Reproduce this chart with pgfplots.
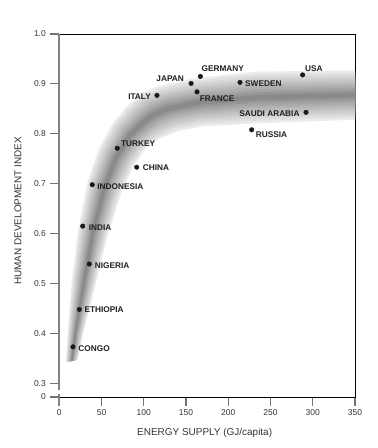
\documentclass[border=0pt]{standalone}
\usepackage{pgfplots}
\pgfplotsset{compat=1.18}
\usepackage{fontspec}
\setmainfont{Liberation Sans}
\tikzset{lab/.style={font=\fontsize{8.3}{9}\selectfont\bfseries, text=black!88, inner sep=1bp}}
\begin{document}
\begin{tikzpicture}
\useasboundingbox (-59.3bp,-51bp) rectangle (318.7bp,397bp);
\begin{axis}[
  at={(0,0)}, anchor=south west,
  scale only axis, width=295.7bp, height=363bp,
  xmin=0, xmax=350, ymin=0.2725, ymax=1,
  xtick={0,50,100,150,200,250,300,350},
  xticklabels={0,50,100,150,200,250,300,350},
  ytick={0.2725,0.3,0.4,0.5,0.6,0.7,0.8,0.9,1.0},
  yticklabels={0,0.3,0.4,0.5,0.6,0.7,0.8,0.9,1.0},
  xtick pos=left, ytick pos=left,
  tick align=outside, major tick length=9bp,
  tick style={draw=black!55, line width=1.1pt},
  axis line style={black, line width=0.8pt},
  ticklabel style={font=\fontsize{8.5}{10}\selectfont, text=black!80},
  yticklabel style={xshift=-1bp},
  xlabel={ENERGY SUPPLY (GJ/capita)},
  ylabel={HUMAN DEVELOPMENT INDEX},
  label style={font=\fontsize{10}{12}\selectfont, text=black!80},
  x label style={at={(axis description cs:0.5,0)}, anchor=center, yshift=-36bp, xshift=-2.5bp},
  y label style={at={(axis description cs:0,0.5)}, anchor=center, xshift=4.5bp, yshift=41.3bp},
]
% band layers (edge -> centre)
\addplot[draw=none, fill=black!8] coordinates {
(7.93,0.3427) (9.94,0.4008) (14.68,0.5010) (21.78,0.6012) (33.14,0.7014) (46.16,0.7675) (63.56,0.8216) (79.77,0.8543) (97.53,0.8818) (115.28,0.8944) (160.61,0.9112) (231.62,0.9244) (290.80,0.9259) (350,0.9268)
(350,0.8280) (290.80,0.8246) (233.99,0.8210) (168.90,0.8146) (142.86,0.8066) (126.29,0.7956) (118.00,0.7896) (103.80,0.7735) (87.58,0.7341) (73.74,0.6840) (56.46,0.5912) (43.08,0.4990) (28.41,0.4008) (21.78,0.3467)};
\addplot[draw=none, fill=black!12] coordinates {
(8.62,0.3429) (10.86,0.4008) (16.10,0.5009) (23.51,0.6007) (35.17,0.7005) (48.23,0.7658) (65.57,0.8192) (81.68,0.8511) (98.97,0.8775) (116.66,0.8900) (161.02,0.9064) (231.74,0.9192) (290.80,0.9208) (350,0.9219)
(350,0.8329) (290.80,0.8297) (233.87,0.8262) (168.49,0.8194) (141.48,0.8110) (124.85,0.7999) (116.09,0.7928) (101.79,0.7759) (85.51,0.7358) (71.71,0.6849) (54.73,0.5917) (41.66,0.4991) (27.49,0.4008) (21.09,0.3465)};
\addplot[draw=none, fill=black!16] coordinates {
(9.32,0.3431) (11.79,0.4008) (17.52,0.5008) (25.25,0.6002) (37.20,0.6997) (50.30,0.7642) (67.58,0.8168) (83.59,0.8478) (100.41,0.8732) (118.04,0.8856) (161.44,0.9015) (231.86,0.9141) (290.80,0.9158) (350,0.9169)
(350,0.8379) (290.80,0.8347) (233.75,0.8313) (168.07,0.8243) (140.10,0.8154) (123.41,0.8042) (114.18,0.7961) (99.78,0.7783) (83.44,0.7374) (69.68,0.6857) (52.99,0.5922) (40.24,0.4992) (26.56,0.4008) (20.40,0.3463)};
\addplot[draw=none, fill=black!20] coordinates {
(10.01,0.3433) (12.71,0.4008) (18.94,0.5007) (26.98,0.5997) (39.23,0.6988) (52.37,0.7625) (69.60,0.8144) (85.50,0.8446) (101.84,0.8689) (119.42,0.8812) (161.85,0.8967) (231.98,0.9089) (290.80,0.9107) (350,0.9120)
(350,0.8428) (290.80,0.8398) (233.63,0.8365) (167.66,0.8291) (138.72,0.8198) (121.98,0.8085) (112.27,0.7993) (97.76,0.7807) (81.37,0.7391) (67.65,0.6866) (51.26,0.5927) (38.82,0.4993) (25.64,0.4008) (19.70,0.3461)};
\addplot[draw=none, fill=black!24] coordinates {
(10.70,0.3435) (13.63,0.4008) (20.36,0.5006) (28.72,0.5992) (41.26,0.6979) (54.44,0.7608) (71.61,0.8120) (87.42,0.8414) (103.28,0.8646) (120.80,0.8768) (162.27,0.8919) (232.09,0.9037) (290.80,0.9056) (350,0.9070)
(350,0.8478) (290.80,0.8449) (233.52,0.8417) (167.24,0.8339) (137.34,0.8242) (120.54,0.8128) (110.35,0.8025) (95.75,0.7831) (79.30,0.7408) (65.62,0.6875) (49.52,0.5932) (37.40,0.4994) (24.72,0.4008) (19.01,0.3459)};
\addplot[draw=none, fill=black!28] coordinates {
(11.39,0.3437) (14.56,0.4008) (21.78,0.5005) (30.45,0.5987) (43.29,0.6971) (56.52,0.7592) (73.62,0.8096) (89.33,0.8381) (104.72,0.8603) (122.18,0.8725) (162.68,0.8871) (232.21,0.8986) (290.80,0.9006) (350,0.9021)
(350,0.8527) (290.80,0.8499) (233.40,0.8469) (166.83,0.8388) (135.97,0.8286) (119.10,0.8172) (108.44,0.8058) (93.74,0.7855) (77.23,0.7425) (63.59,0.6884) (47.79,0.5937) (35.98,0.4995) (23.79,0.4008) (18.32,0.3457)};
\addplot[draw=none, fill=black!32] coordinates {
(12.09,0.3439) (15.48,0.4008) (23.20,0.5004) (32.18,0.5982) (45.32,0.6962) (58.59,0.7575) (75.63,0.8072) (91.24,0.8349) (106.16,0.8559) (123.55,0.8681) (163.10,0.8822) (232.33,0.8934) (290.80,0.8955) (350,0.8972)
(350,0.8576) (290.80,0.8550) (233.28,0.8520) (166.41,0.8436) (134.59,0.8329) (117.66,0.8215) (106.53,0.8090) (91.73,0.7879) (75.15,0.7441) (61.56,0.6892) (46.06,0.5942) (34.56,0.4996) (22.87,0.4008) (17.63,0.3455)};
\addplot[draw=none, fill=black!36] coordinates {
(12.78,0.3441) (16.40,0.4008) (24.62,0.5003) (33.92,0.5977) (47.35,0.6953) (60.66,0.7558) (77.64,0.8048) (93.15,0.8317) (107.60,0.8516) (124.93,0.8637) (163.51,0.8774) (232.45,0.8882) (290.80,0.8904) (350,0.8922)
(350,0.8626) (290.80,0.8600) (233.16,0.8572) (166.00,0.8484) (133.21,0.8373) (116.22,0.8258) (104.62,0.8122) (89.72,0.7903) (73.08,0.7458) (59.53,0.6901) (44.32,0.5947) (33.14,0.4997) (21.95,0.4008) (16.93,0.3453)};
\addplot[draw=none, fill=black!41] coordinates {
(13.47,0.3443) (17.33,0.4008) (26.04,0.5002) (35.65,0.5972) (49.38,0.6944) (62.73,0.7541) (79.66,0.8024) (95.06,0.8284) (109.03,0.8473) (126.31,0.8593) (163.93,0.8726) (232.57,0.8830) (290.80,0.8854) (350,0.8873)
(350,0.8675) (290.80,0.8651) (233.04,0.8624) (165.58,0.8532) (131.83,0.8417) (114.79,0.8301) (102.71,0.8155) (87.70,0.7927) (71.01,0.7475) (57.50,0.6910) (42.59,0.5952) (31.72,0.4998) (21.02,0.4008) (16.24,0.3451)};
\addplot[draw=none, fill=black!46] coordinates {
(14.16,0.3445) (18.25,0.4008) (27.46,0.5001) (37.39,0.5967) (51.41,0.6936) (64.80,0.7525) (81.67,0.8000) (96.97,0.8252) (110.47,0.8430) (127.69,0.8549) (164.34,0.8677) (232.69,0.8779) (290.80,0.8803) (350,0.8823)
(350,0.8725) (290.80,0.8702) (232.92,0.8675) (165.17,0.8581) (130.45,0.8461) (113.35,0.8344) (100.80,0.8187) (85.69,0.7951) (68.94,0.7491) (55.47,0.6918) (40.85,0.5957) (30.30,0.4999) (20.10,0.4008) (15.55,0.3449)};
% countries
\addplot[only marks, mark=*, mark size=2.3pt, black!90] coordinates {
(288,0.918) (213.9,0.903) (167,0.915) (156,0.901) (163,0.884) (115.6,0.877)
(292,0.843) (227.7,0.808) (68.6,0.771) (91.6,0.733) (39,0.698) (27.7,0.615)
(35.5,0.539) (23.7,0.448) (16.2,0.373)};
\node[lab, anchor=west, xshift=1.3bp, yshift=6bp] at (axis cs:288,0.918) {USA};
\node[lab, anchor=west, xshift=4bp, yshift=-1.4bp] at (axis cs:213.9,0.903) {SWEDEN};
\node[lab, anchor=west, xshift=0bp, yshift=7.4bp] at (axis cs:167,0.915) {GERMANY};
\node[lab, anchor=east, xshift=-6bp, yshift=4.7bp] at (axis cs:156,0.901) {JAPAN};
\node[lab, anchor=west, xshift=1.7bp, yshift=-7bp] at (axis cs:163,0.884) {FRANCE};
\node[lab, anchor=east, xshift=-5bp, yshift=-1.4bp] at (axis cs:115.6,0.877) {ITALY};
\node[lab, anchor=east, xshift=-5.3bp, yshift=-1bp] at (axis cs:292,0.843) {SAUDI ARABIA};
\node[lab, anchor=west, xshift=3bp, yshift=-5bp] at (axis cs:227.7,0.808) {RUSSIA};
\node[lab, anchor=west, xshift=2.7bp, yshift=4.3bp] at (axis cs:68.6,0.771) {TURKEY};
\node[lab, anchor=west, xshift=5bp, yshift=-0.4bp] at (axis cs:91.6,0.733) {CHINA};
\node[lab, anchor=west, xshift=4bp, yshift=-1.7bp] at (axis cs:39,0.698) {INDONESIA};
\node[lab, anchor=west, xshift=5bp, yshift=-1.3bp] at (axis cs:27.7,0.615) {INDIA};
\node[lab, anchor=west, xshift=4.4bp, yshift=-1.3bp] at (axis cs:35.5,0.539) {NIGERIA};
\node[lab, anchor=west, xshift=4bp, yshift=-0.7bp] at (axis cs:23.7,0.448) {ETHIOPIA};
\node[lab, anchor=west, xshift=4.3bp, yshift=-1.4bp] at (axis cs:16.2,0.373) {CONGO};
\coordinate (sTop) at (axis cs:0,1);
\coordinate (g1) at (axis cs:0,0.2866);
\coordinate (g2) at (axis cs:0,0.2786);
\coordinate (sBot) at (axis cs:0,0.2725);
\end{axis}
\draw[white, line width=2.6pt] (g1) -- (g2);
\draw[black!50, line width=1.8pt] (sTop) -- (g1);
\draw[black!50, line width=1.8pt] (g2) -- ([yshift=-9bp]sBot);
\end{tikzpicture}
\end{document}
